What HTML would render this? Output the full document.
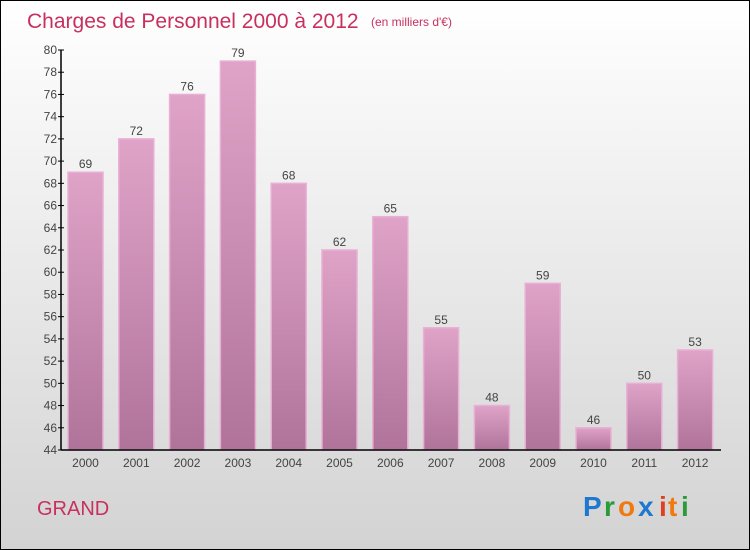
<!DOCTYPE html>
<html><head><meta charset="utf-8"><style>
body{margin:0}
#wrap{width:748px;height:548px;border:1px solid #000;background:linear-gradient(#ffffff,#d3d3d3);position:relative;font-family:"Liberation Sans",sans-serif;overflow:hidden}
</style></head><body>
<div id="wrap">
<svg id="c" width="748" height="548" xmlns="http://www.w3.org/2000/svg">
<defs><linearGradient id="bg" x1="0" y1="0" x2="0" y2="1"><stop offset="0" stop-color="#e0a3c8"/><stop offset="1" stop-color="#b0739a"/></linearGradient></defs>
<text x="26" y="27" font-size="21" fill="#c8305f">Charges de Personnel 2000 à 2012</text>
<text x="370" y="25" font-size="12" fill="#c8305f">(en milliers d'€)</text>
<text x="36" y="514" font-size="20" fill="#c8305f">GRAND</text>
<g font-size="28" font-weight="bold">
<text x="582" y="515" fill="#1e78d0">P</text><text x="603" y="515" fill="#2a9a3a">r</text><text x="617" y="515" fill="#f07a10">o</text><text x="637" y="515" fill="#1e78d0">x</text><text x="658" y="515" fill="#e04020">i</text><text x="667" y="515" fill="#f07a10">t</text><text x="680" y="515" fill="#2a9a3a">i</text>
</g>
<g id="plot"></g>
</svg></div>
<script>
const years=["2000","2001","2002","2003","2004","2005","2006","2007","2008","2009","2010","2011","2012"];
const values=[69,72,76,79,68,62,65,55,48,59,46,50,53];
const yTicks=[44,46,48,50,52,54,56,58,60,62,64,66,68,70,72,74,76,78,80];
const ns="http://www.w3.org/2000/svg";
const g=document.getElementById('plot');
const yMin=44,yMax=80,y0=449,y1=49,xL=60,xR=720;
const y=v=>y0-(v-yMin)/(yMax-yMin)*(y0-y1);
const step=50.8,x=i=>84.5+i*step,bw=35;
function mk(t,a,p){const e=document.createElementNS(ns,t);for(const k in a)e.setAttribute(k,a[k]);(p||g).appendChild(e);return e;}
values.forEach((v,i)=>{
 const r=mk('rect',{x:x(i)-bw/2,y:y(v),width:bw,height:y0-y(v),fill:'url(#bg)',stroke:'#e8b0d4','stroke-width':1.5});
 
 
 const t=mk('text',{x:x(i),y:y(v)-4,'text-anchor':'middle','font-size':12,fill:'#444'});t.textContent=v;
 
 
 const l=mk('text',{x:x(i),y:y0+17,'text-anchor':'middle','font-size':12,fill:'#444'});l.textContent=years[i];
 
 
});
yTicks.forEach(v=>{
 mk('line',{x1:xL-3,x2:xL+3,y1:y(v),y2:y(v),stroke:'#000'});
 const t=mk('text',{x:xL-4,y:y(v)+4,'text-anchor':'end','font-size':12,fill:'#444'});t.textContent=v;
 
 
});
const ya=mk('line',{x1:xL,x2:xL,y1:y1,y2:y0,stroke:'#000','stroke-width':1.5});


const xa=mk('line',{x1:xL,x2:xR,y1:y0,y2:y0,stroke:'#000','stroke-width':1.5});


</script>
</body></html>
